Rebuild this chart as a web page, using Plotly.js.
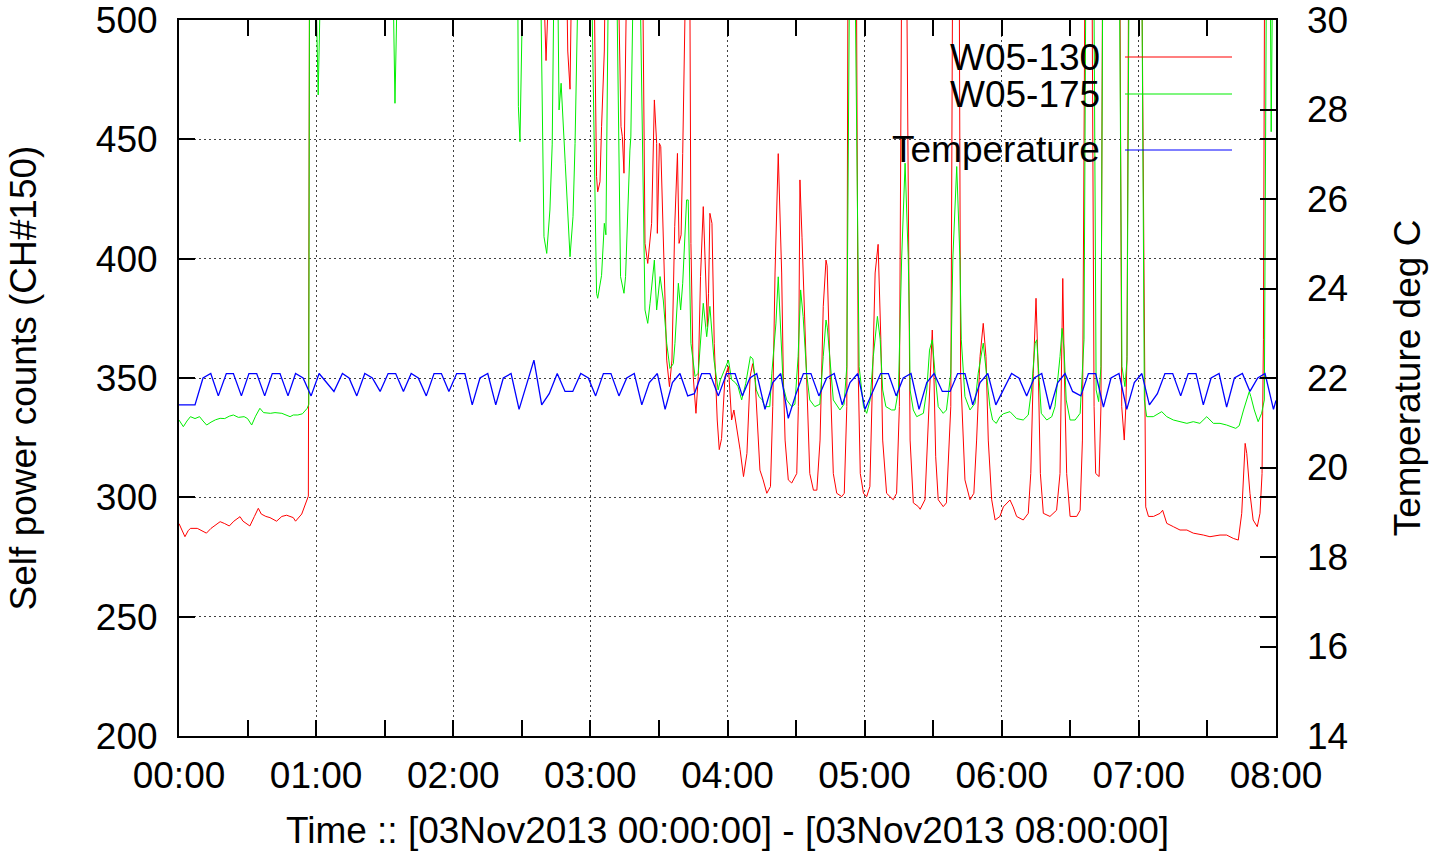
<!DOCTYPE html>
<html>
<head>
<meta charset="utf-8">
<script src="https://cdn.plot.ly/plotly-3.0.1.min.js"></script>
<style>
html,body{margin:0;padding:0;background:#fff;}
#chart{width:1447px;height:855px;}
</style>
</head>
<body>
<div id="chart"></div>
<script>
// ---- data (time in minutes after 03Nov2013 00:00:00) ----
// values above 500 lie outside the plotted range (clipped at the top border)
var redMin = [0,1,2.6,4,5,8,10,12,14,18,20,22,24,26.7,28,31,33,34.7,36,38,39.8,42.7,45,47.1,50,51,53.7,55.9,56.6,57.1,
159.4,160.6,162.0,169.6,170.1,171.1,171.8,
181.6,182.7,183.2,184.2,184.9,186.1,186.5,
192.2,193.4,194.0,194.7,195.3,195.9,
202.9,203.9,205.1,206.1,206.8,208.0,209.0,209.3,210.2,210.8,211.9,213.4,214.6,215.7,216.9,218.1,218.8,219.7,220.4,221.7,223.5,
224.0,225.0,226.2,227.2,228.2,229.4,230.6,231.2,231.7,232.3,233.2,234.2,235.5,236.4,237.4,238.9,240.4,241.8,242.8,244.0,245.5,
247.0,248.5,249.9,251.0,252.0,253.2,254.2,255.6,257.2,258.8,259.8,260.8,262.2,263.7,264.4,265.2,266.6,268.1,270.3,271.0,271.7,
272.6,274.6,276.0,277.6,279.1,280.5,281.9,283.1,283.6,284.9,286.3,287.8,290.0,291.1,292.2,292.7,296.4,297.2,298.1,299.5,300.9,
302.3,303.5,304.6,305.9,307.1,307.9,309.6,311.1,312.5,314.0,315.2,316.2,318.4,319.9,321.3,323.5,324.3,326.4,327.5,328.9,329.6,
330.3,331.1,332.2,334.4,335.8,337.7,338.5,341.4,342.0,343.9,346.1,347.8,349.0,350.5,351.9,353.1,354.1,355.6,357.1,359.2,360.7,
363.6,365.0,366.5,369.4,371.6,372.7,373.8,375.0,376.0,376.9,378.2,381.1,384.0,385.5,386.2,386.7,387.4,388.4,389.9,392.8,394.3,
395.3,396.4,399.5,400.4,401.1,402.6,403.4,404.1,411.7,412.5,413.6,414.3,414.8,415.5,421.3,423.0,424.2,426.4,429.3,430.4,432.2,
435.1,438.0,441.0,443.8,448.2,451.1,455.5,458.4,461.3,463.5,465.0,465.8,466.5,467.2,468.6,470.0,471.8,473.0,473.9,474.5,475.0,480];
var redVal = [289,287,283.5,286,287,287,286,285,287,289.8,289,288,290,291.9,290,288,292,295.4,293,292,291.5,290,292,292.5,291.5,290,293,298.9,300.5,520,
520,483,520,520,487,471,520,
520,434.4,428,432.2,455.3,487,520,
520,455.3,451.1,435.8,470,520,
520,406.4,398,409.2,414.8,466.5,448.3,410.6,448.3,446.9,406.4,357.5,346.4,357.5,413.4,444.1,406.4,410,444.1,520,520,
406.4,350.6,335.2,350.6,392.5,421.8,385.5,371.5,385.5,419,414.8,364.5,332.4,320,324.6,350.6,354.8,332.4,336.6,329.5,320,
308.7,318.4,350.6,356,350.6,329.5,311.4,307.3,301.7,304.5,338,394,444,394,352,324,307.3,306,310,338,433,
409,352,310,303,303,324,380,399.4,397,352,310,301.7,300.3,301.7,338,520,520,352,310,301.7,300.3,
304.5,352,394,406,366,324,301.7,300.3,299,301.7,338,520,520,324,297.7,296.1,295,299,324,359,370.1,
352,317,299,296.1,297.7,338,520,520,352,307.3,299,301.7,324,359,372.9,359,324,299,290.5,292,296,
298.9,296,292,290.5,293.3,310,352,383.4,352,310,293.3,292,294.6,310,366,391.7,352,310,292,292,294.6,
324,520,520,338,310,308.7,338,520,520,338,324,338,359,520,520,296,292,292,293.3,294.6,289.1,
287.7,286.3,286.3,285,284.2,283.5,284.2,284.2,282.8,282.1,293.3,310,322.6,318.4,301.7,290.5,287.7,293.3,310,366,520,520];

var greenMin = [0,1.9,3.5,5,7,9,10.5,12.1,14,16,18,20,22,23.8,26,28.5,30,31.8,33.5,35.4,37,40,42,45,48.6,50,52,54,56.1,56.8,57.1,
59.8,60.9,62.0,93.6,94.5,95.6,148.2,148.5,149.2,150.5,158.2,159.7,160.9,162.3,163.3,164.1,165.7,166.3,167.2,169.0,171.1,172.4,173.3,174.7,
180.5,182.7,183.2,184.9,186.1,186.8,187.9,191.5,193.2,194.7,195.4,197.3,197.7,198.8,
201.7,203.9,205.1,206.1,208.0,209.0,210.5,211.9,213.4,214.8,216.3,217.0,218.5,219.5,220.4,222.1,222.8,224.0,225.8,227.2,229.4,230.9,232.3,234.1,
235.9,236.9,238.2,239.5,240.4,241.8,243.5,244.6,246.2,248.0,250.0,251.1,252.6,253.8,255.2,256.3,258.5,259.4,261.2,262.2,263.2,264.4,265.9,
268.1,269.5,270.9,272.0,273.1,274.6,276.0,278.2,280.4,281.9,283.1,283.7,285.2,286.3,289.2,291.0,292.2,293.4,295.8,297.6,299.5,300.9,
302.4,303.8,305.6,306.8,307.9,309.3,311.8,313.3,314.8,316.2,317.7,319.1,319.6,319.9,321.3,322.8,325.7,327.2,328.4,329.6,330.8,332.2,
334.4,335.8,337.7,338.6,340.3,341.7,342.3,343.9,346.1,348.3,349.7,351.9,353.3,354.8,356.0,357.6,359.2,360.7,363.6,366.5,369.4,371.6,
373.0,374.6,375.3,376.3,377.3,379.7,381.9,383.3,385.5,386.4,387.3,388.2,389.9,392.1,394.3,396.0,396.8,400.3,401.3,402.4,403.4,404.2,
411.5,412.6,413.9,414.8,415.7,421.3,422.4,423.4,426.3,430.0,432.2,435.1,438.0,441.0,443.8,446.7,449.7,452.6,455.5,458.4,462.4,463.9,
465.8,468.3,469.0,470.5,472.2,473.7,474.9,475.8,477.5,477.9,478.5,480];
var greenVal = [332.4,329.6,332,333.8,333,333.8,332,330.3,331.5,332.5,333.1,333,334,334.5,333.5,333.8,333,330.3,334,337.3,335.5,335.2,335.5,335.2,333.8,334.5,334.5,335,337.3,339,520,
520,468.6,520,520,465.1,520,520,463.7,449,520,520,409.2,402.2,420.4,448,520,520,462.3,473.5,440,400.8,417.6,448.3,520,
520,385.5,383.4,393,414.8,410,520,520,392.5,385.5,392.5,445.5,451,520,
520,378.5,372.9,381.3,399.4,378.5,392.5,382.7,364.5,354,356,364.5,389.7,378.5,389.7,424.6,424.6,364.5,350.6,352,381.3,367.3,380,357.5,
345,349.2,352,354.8,357.5,349.3,348,346.4,340.8,347.8,359,358,345,342.2,340.8,338,338,352,373,392.4,373,346.4,340.8,
338,339,359,386.9,375.8,352,340.8,338,339,359,374.3,371,352,340.8,336.6,339,354.8,520,520,354.8,338,335.2,
340.8,359,375.8,366.3,345,338,336.6,336.6,345,400,440,400,373,345,336.6,333.8,335.2,345,361.7,366,352,338,
335.2,336.6,352,400,438.6,400,366,342.2,336.6,339.4,352,364.6,352,338,332.4,331,333.8,335,335.9,333,332.4,334.5,
345,364.6,366,352,335.2,332.4,333.8,338,359,370.8,361.7,340.8,332.4,332.4,335.2,366,520,520,345,340.1,354.8,520,
520,354.8,346.4,357.5,520,520,340.8,333.8,333.8,335.9,333.8,332.4,331.7,331,331.7,331,333.8,331,331,330.3,328.9,330,
336.6,344.3,342.2,336.6,331.7,335.2,340.8,520,520,453.2,520,520];

var tempMin = [0,7,10.5,13.9,17.2,20.7,23.8,27.3,30.6,34.0,37.5,40.8,44.2,47.7,51.0,54.3,57.8,61.3,67.8,71.5,74.4,77.8,81.3,84.6,88.0,
91.5,94.8,98.2,101.6,104.7,108.2,111.6,114.8,118.1,121.5,125.1,128.3,131.7,135.1,138.6,141.9,145.3,148.8,155.3,158.7,162.0,165.5,
168.9,172.3,175.8,179.1,182.3,185.7,189.0,192.5,195.9,199.2,202.5,205.8,209.3,212.7,215.9,219.2,222.6,225.5,228.7,232.3,236.0,
239.6,243.3,246.5,249.8,252.8,256.4,259.8,263.3,266.6,270.0,273.2,276.5,280.0,283.4,286.7,290.2,293.6,297.0,300.2,307.0,310.4,
313.8,316.9,320.3,323.8,327.2,330.4,334.0,337.4,340.7,343.9,347.3,350.5,353.9,357.4,364.3,367.5,370.9,374.2,377.5,381.1,384.5,
387.7,391.0,394.6,397.9,401.1,404.5,407.8,411.3,414.7,418.0,421.3,424.6,428.1,431.4,434.8,438.3,441.6,445.0,448.2,451.6,455.1,
458.4,461.8,465.3,468.6,472.0,475.2,478.9,480];
var tempVal = [21.4,21.4,22.0,22.1,21.6,22.1,22.1,21.6,22.1,22.1,21.6,22.1,22.1,21.6,22.1,22.0,21.6,22.1,21.7,22.1,22.0,21.6,22.1,22.0,21.7,
22.1,22.1,21.7,22.1,22.0,21.6,22.1,22.1,21.7,22.1,22.1,21.4,22.0,22.1,21.4,22.0,22.1,21.3,22.4,21.4,21.65,22.1,
21.7,21.7,22.1,22.0,21.6,22.1,22.1,21.6,22.0,22.1,21.4,21.9,22.1,21.3,21.9,22.1,21.6,21.65,22.1,22.1,21.6,
22.1,22.1,21.6,22.0,22.1,21.3,21.9,22.1,21.1,21.65,22.1,22.1,21.6,22.0,22.1,21.4,21.9,22.1,21.3,22.1,22.1,
21.6,22.0,22.1,21.3,21.9,22.1,21.7,21.7,22.1,22.1,21.4,21.9,22.1,21.4,22.1,22.0,21.6,22.0,22.1,21.3,21.9,
22.1,21.7,21.6,22.1,22.1,21.35,22.0,22.1,21.3,21.9,22.1,21.4,21.65,22.1,22.1,21.6,22.1,22.1,21.4,22.0,22.1,
21.35,22.0,22.1,21.7,22.0,22.1,21.3,21.5];

var seriesNames = ['W05-130', 'W05-175', 'Temperature'];
var seriesColors = ['#ff0000', '#00ee00', '#0000ff'];
var xTitle = 'Time :: [03Nov2013 00:00:00] - [03Nov2013 08:00:00]';
var yTitle = 'Self power counts (CH#150)';
var y2Title = 'Temperature deg C';

// ---- helpers ----
var base = Date.UTC(2013, 10, 3, 0, 0, 0);
function toDate(m) {
  return new Date(base + Math.round(m * 60000)).toISOString().slice(0, 19).replace('T', ' ');
}
var FONT = 'Liberation Sans, Arial, sans-serif';
var FS = 37;

var traces = [
  {x: redMin.map(toDate), y: redVal, type: 'scatter', mode: 'lines', name: seriesNames[0],
   line: {color: seriesColors[0], width: 1}, yaxis: 'y'},
  {x: greenMin.map(toDate), y: greenVal, type: 'scatter', mode: 'lines', name: seriesNames[1],
   line: {color: seriesColors[1], width: 1}, yaxis: 'y'},
  {x: tempMin.map(toDate), y: tempVal, type: 'scatter', mode: 'lines', name: seriesNames[2],
   line: {color: seriesColors[2], width: 1.3}, yaxis: 'y2'}
];

// plot area in px: left 179, right 1276, top 20, bottom 736
var L = 179, R = 1276, T = 20, B = 736;
function px(xp) { return (xp - L) / (R - L); }
function py(yp) { return (B - yp) / (B - T); }

var legendY = [57, 94, 150];
var annotations = [], shapes = [];
for (var i = 0; i < 3; i++) {
  annotations.push({xref: 'paper', yref: 'paper', x: px(1102), y: py(legendY[i]), xanchor: 'right', yanchor: 'middle',
    text: seriesNames[i], showarrow: false, font: {family: FONT, size: FS, color: '#000'}});
  shapes.push({type: 'line', xref: 'paper', yref: 'paper', x0: px(1125), x1: px(1232), y0: py(legendY[i]), y1: py(legendY[i]),
    line: {color: seriesColors[i], width: 1.2}});
}

var layout = {
  width: 1447, height: 855,
  margin: {l: L, r: 1447 - R, t: T, b: 855 - B, pad: 0},
  paper_bgcolor: '#fff', plot_bgcolor: '#fff',
  font: {family: FONT, size: FS, color: '#000'},
  showlegend: false,
  xaxis: {
    type: 'date',
    range: [toDate(0), toDate(480)],
    dtick: 3600000, tick0: toDate(0), tickformat: '%H:%M',
    ticks: 'inside', ticklen: 16, tickwidth: 2, tickcolor: '#000',
    minor: {dtick: 1800000, ticks: 'inside', ticklen: 8, tickwidth: 2, tickcolor: '#000', showgrid: false},
    showline: true, linewidth: 2, linecolor: '#000', mirror: 'allticks',
    showgrid: true, gridcolor: 'rgba(0,0,0,0.75)', gridwidth: 1, griddash: '2px,3px',
    zeroline: false,
    tickfont: {family: FONT, size: FS, color: '#000'},
    ticklabelstandoff: 6, ticklabeloverflow: 'allow',
    title: {text: xTitle, font: {family: FONT, size: FS, color: '#000'}, standoff: 22}
  },
  yaxis: {
    range: [200, 500], dtick: 50, tick0: 200,
    ticks: 'inside', ticklen: 16, tickwidth: 2, tickcolor: '#000',
    showline: true, linewidth: 2, linecolor: '#000', mirror: 'ticks',
    showgrid: true, gridcolor: 'rgba(0,0,0,0.75)', gridwidth: 1, griddash: '2px,3px',
    zeroline: false,
    tickfont: {family: FONT, size: FS, color: '#000'},
    ticklabelstandoff: 12, ticklabeloverflow: 'allow',
    title: {text: yTitle, font: {family: FONT, size: FS, color: '#000'}, standoff: 48}
  },
  yaxis2: {
    overlaying: 'y', side: 'right',
    range: [14, 30], dtick: 2, tick0: 14,
    ticks: 'inside', ticklen: 16, tickwidth: 2, tickcolor: '#000',
    showline: false, showgrid: false, zeroline: false,
    tickfont: {family: FONT, size: FS, color: '#000'},
    ticklabelstandoff: 30, ticklabeloverflow: 'allow',
    title: {text: y2Title, font: {family: FONT, size: FS, color: '#000'}, standoff: 46}
  },
  annotations: annotations,
  shapes: shapes
};

Plotly.newPlot('chart', traces, layout, {displayModeBar: false, staticPlot: true});
</script>
</body>
</html>
